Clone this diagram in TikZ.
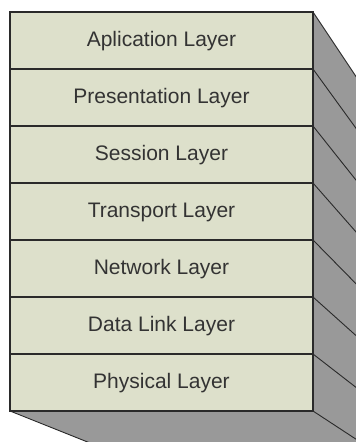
\documentclass[tikz,border=0pt]{standalone}
\usepackage{fontspec}
\setmainfont{Liberation Sans}
\usetikzlibrary{calc}
\definecolor{facecol}{HTML}{DDE0CB}
\definecolor{sidecol}{HTML}{999999}
\definecolor{edgecol}{HTML}{2A2A2A}
\definecolor{textcol}{HTML}{333333}
\begin{document}
\begin{tikzpicture}[x=1pt,y=-1pt,
  layerbox/.style={draw=edgecol, line width=1.1pt, fill=facecol, minimum width=303pt, minimum height=57pt, inner sep=0pt, outer sep=0pt, text height=15pt, text depth=4pt, anchor=north west, text=textcol, font=\fontsize{21}{24}\selectfont},
  depthline/.style={draw=edgecol, line width=0.9pt}]
\useasboundingbox (0,0) rectangle (356,442);
\clip (0,0) rectangle (356,442);
\fill[white] (0,0) rectangle (356,442);
\coordinate (vp) at (786,721);
\coordinate (ftr) at (313,12);
\coordinate (fbr) at (313,411);
\coordinate (fbl) at (10,411);
% side and bottom faces
\fill[sidecol] (ftr) -- ($(ftr)!0.5!(vp)$) -- ($(fbr)!0.5!(vp)$) -- ($(fbl)!0.5!(vp)$) -- (fbl) -- (fbr) -- cycle;
\node[layerbox] (L1) at (10,12) {Aplication Layer};
\node[layerbox] (L2) at (L1.south west) {Presentation Layer};
\node[layerbox] (L3) at (L2.south west) {Session Layer};
\node[layerbox] (L4) at (L3.south west) {Transport Layer};
\node[layerbox] (L5) at (L4.south west) {Network Layer};
\node[layerbox] (L6) at (L5.south west) {Data Link Layer};
\node[layerbox] (L7) at (L6.south west) {Physical Layer};
\foreach \n in {L1,L2,L3,L4,L5,L6,L7}{
  \draw[depthline] (\n.north east) -- ($(\n.north east)!0.3!(vp)$);
}
\draw[depthline] (L7.south east) -- ($(L7.south east)!0.3!(vp)$);
\draw[depthline] (L7.south west) -- ($(L7.south west)!0.3!(vp)$);
\end{tikzpicture}
\end{document}
